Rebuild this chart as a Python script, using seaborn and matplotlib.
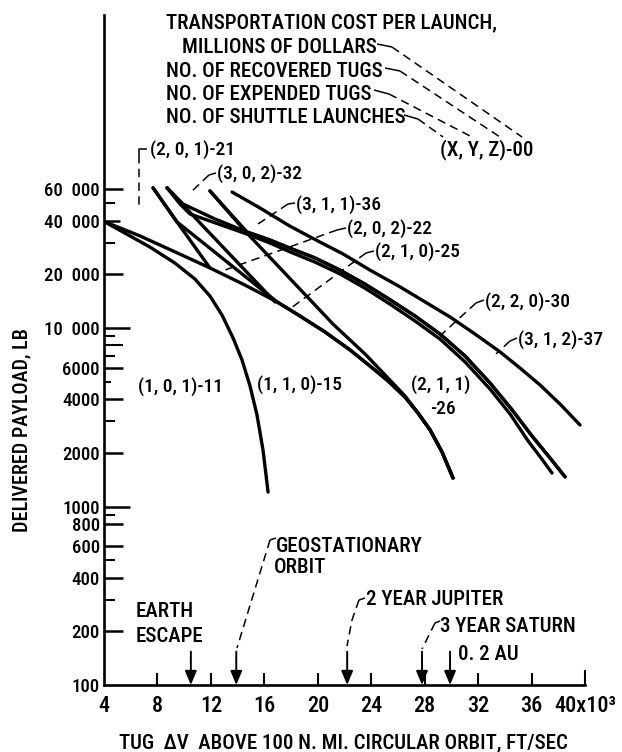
import numpy as np
import pandas as pd
import matplotlib
matplotlib.use("Agg")
import matplotlib.pyplot as plt
from matplotlib import font_manager as fm
from matplotlib.font_manager import FontProperties
from matplotlib.lines import Line2D
from matplotlib.ticker import NullFormatter
import seaborn as sns

# ---------------- data ----------------
# curves: (shuttle launches, expended tugs, recovered tugs) - cost per launch
dv_101_11 = [4.0, 5.57, 7.44, 9.31, 10.81, 11.93, 12.83, 13.66, 14.33, 14.93, 15.45, 15.90, 16.28]
pl_101_11 = [39500, 34000, 28400, 23100, 18800, 15100, 11830, 8790, 6620, 4730, 3260, 2075, 1205]

dv_110_15 = [4.0, 6.69, 9.31, 11.93, 14.55, 16.95, 18.67, 20.54, 22.41, 23.91, 25.26,
             26.53, 27.50, 28.40, 29.30, 30.12]
pl_110_15 = [39500, 32800, 26700, 21700, 17400, 14000, 11670, 9500, 7540, 6120, 5050,
             4100, 3340, 2690, 2020, 1445]

dv_201_21 = [7.67, 9.46, 11.93]
pl_201_21 = [61000, 39300, 21700]

dv_202_22 = [8.72, 9.91, 16.80]
pl_202_22 = [61000, 48900, 14000]

dv_210_25 = [7.67, 9.46, 16.95, 18.67, 20.54, 22.41, 23.91, 25.26, 26.53, 27.50, 28.40,
             29.30, 30.12]
pl_210_25 = [61000, 39300, 14000, 11670, 9500, 7540, 6120, 5050, 4100, 3340, 2690,
             2020, 1445]

dv_211_26 = [11.93, 14.70, 17.40, 21.14, 23.54, 25.03, 26.53, 27.50, 28.40, 29.30, 30.12]
pl_211_26 = [58600, 34000, 20800, 10520, 7150, 5460, 4160, 3340, 2690, 2020, 1445]

dv_220_30 = [8.72, 9.91, 12.31, 14.70, 16.43, 17.92, 19.79, 21.66, 23.54, 25.41, 27.28,
             29.15, 31.02, 32.89, 34.54, 36.04, 37.38, 38.51]
pl_220_30 = [61000, 49500, 40800, 34500, 31100, 28000, 24700, 21100, 17600, 14400, 11670,
             9250, 6970, 4920, 3480, 2480, 1870, 1465]

dv_302_32 = [8.72, 9.69, 10.44, 14.70, 16.43, 17.92, 19.79, 21.66, 23.54, 25.41, 27.28,
             29.15, 31.02, 32.89, 34.39, 35.74, 36.71, 37.53]
pl_302_32 = [61000, 49500, 43500, 33600, 29900, 26700, 23400, 20100, 16700, 13600, 10940,
             8670, 6460, 4550, 3300, 2330, 1870, 1540]

dv_311_36 = [11.93, 14.70, 16.43, 17.92, 19.79, 21.66, 23.54, 25.41, 27.28, 29.15, 31.02,
             32.89, 34.54, 36.04, 37.38, 38.51]
pl_311_36 = [58600, 34500, 31100, 28000, 24700, 21100, 17600, 14400, 11670, 9250, 6970,
             4920, 3480, 2480, 1870, 1465]

dv_312_37 = [13.58, 15.68, 17.92, 20.16, 21.89, 23.91, 26.16, 28.03, 29.90, 31.77, 33.64,
             35.13, 36.63, 38.13, 39.63]
pl_312_37 = [57800, 47000, 37200, 30300, 26000, 21100, 17000, 14000, 11530, 9250, 7350,
             5970, 4800, 3750, 2860]

curve_names = ["(1, 0, 1)-11", "(1, 1, 0)-15", "(2, 0, 1)-21", "(2, 0, 2)-22",
               "(2, 1, 0)-25", "(2, 1, 1)-26", "(2, 2, 0)-30", "(3, 0, 2)-32",
               "(3, 1, 1)-36", "(3, 1, 2)-37"]
curve_dv = [dv_101_11, dv_110_15, dv_201_21, dv_202_22, dv_210_25,
            dv_211_26, dv_220_30, dv_302_32, dv_311_36, dv_312_37]
curve_pl = [pl_101_11, pl_110_15, pl_201_21, pl_202_22, pl_210_25,
            pl_211_26, pl_220_30, pl_302_32, pl_311_36, pl_312_37]

mission_labels = ["EARTH\nESCAPE", "GEOSTATIONARY\nORBIT", "2 YEAR JUPITER",
                  "3 YEAR SATURN", "0. 2 AU"]
mission_dv = [10.5, 13.9, 22.2, 27.8, 29.9]

x_ticks = [4, 8, 12, 16, 20, 24, 28, 32, 36, 40]
x_tick_labels = ["4", "8", "12", "16", "20", "24", "28", "32", "36", "40x10\u00b3"]
y_ticks = [100, 200, 400, 600, 800, 1000, 2000, 4000, 6000, 10000, 20000, 40000, 60000]
y_tick_labels = ["100", "200", "400", "600", "800", "1000", "2000", "4000", "6000",
                 "10  000", "20  000", "40  000", "60  000"]
y_minor_ticks = [300, 500, 900, 3000, 5000, 7000, 8000, 9000, 30000, 50000]

legend_lines = ["TRANSPORTATION COST PER LAUNCH,", "MILLIONS OF DOLLARS",
                "NO. OF RECOVERED TUGS", "NO. OF EXPENDED TUGS",
                "NO. OF SHUTTLE LAUNCHES"]
legend_key = "(X, Y, Z)-00"

# ---------------- style & fonts ----------------
sns.set_theme(style="ticks")
avail = {f.name for f in fm.fontManager.ttflist}
FAM, STRETCH = "Liberation Sans", "normal"
for cand in ["Roboto Condensed", "Liberation Sans Narrow", "Open Sans Condensed",
             "Noto Sans Condensed", "DejaVu Sans Condensed"]:
    if cand in avail:
        FAM = cand
        break
plt.rcParams.update({"font.family": [FAM, "DejaVu Sans"],
                     "xtick.direction": "in", "ytick.direction": "in"})


def font(size):
    return FontProperties(family=[FAM, "DejaVu Sans"], stretch=STRETCH, size=size,
                          weight="medium")


# ---------------- figure ----------------
W, H = 622, 752
AX_W, AX_H = 585 - 104, 685 - 15          # axes size in pixels
fig = plt.figure(figsize=(W / 100, H / 100), dpi=100)
ax = fig.add_axes([104 / W, 1 - 685 / H, AX_W / W, AX_H / H])

frames = [pd.DataFrame({"dv": xs, "payload": ys, "curve": nm})
          for nm, xs, ys in zip(curve_names, curve_dv, curve_pl)]
df = pd.concat(frames, ignore_index=True)
sns.lineplot(data=df, x="dv", y="payload", units="curve", estimator=None, sort=False,
             color="black", lw=2.4, ax=ax, legend=False,
             solid_joinstyle="round", solid_capstyle="round")

ax.set_yscale("log")
ax.set_xlim(4, 40)
ax.set_ylim(100, 10 ** (2 + 670 / 178.5))
ax.set_xlabel("")
ax.set_ylabel("")
for s in ["top", "right"]:
    ax.spines[s].set_visible(False)
for s in ["left", "bottom"]:
    ax.spines[s].set_color("black")
    ax.spines[s].set_linewidth(1.9)
    ax.spines[s].set_zorder(3)

ax.set_xticks(x_ticks, x_tick_labels)
ax.set_yticks(y_ticks, y_tick_labels)
ax.set_yticks(y_minor_ticks, minor=True)
ax.yaxis.set_minor_formatter(NullFormatter())
# tick labels come from the axis; the tick strokes are drawn below
ax.tick_params(axis="x", which="both", bottom=True, top=False, length=0,
               labelcolor="black", pad=7)
ax.tick_params(axis="y", which="both", left=True, right=False, length=0,
               labelcolor="black", pad=3)
for lbl in ax.get_xticklabels():
    lbl.set_fontproperties(font(16))
for lbl in ax.get_yticklabels():
    lbl.set_fontproperties(font(13.5))

# tick strokes (inward), lengths in pixels, placed via the axis transforms
y_major_len = {100: 0, 1000: 26, 10000: 26, 40000: 16}
y_minor_len = {8000: 19, 5000: 7}
ylt = ax.get_yaxis_transform()
ax.hlines(y_ticks, 0, [y_major_len.get(v, 19) / AX_W for v in y_ticks],
          transform=ylt, colors="black", lw=1.8, clip_on=False, zorder=3)
ax.hlines(y_minor_ticks, 0, [y_minor_len.get(v, 11) / AX_W for v in y_minor_ticks],
          transform=ylt, colors="black", lw=1.5, clip_on=False, zorder=3)
xlt = ax.get_xaxis_transform()
ax.vlines(x_ticks[1:], 0, [15 / AX_H if v == 40 else 12 / AX_H for v in x_ticks[1:]],
          transform=xlt, colors="black", lw=1.5, clip_on=False, zorder=3)

# ---------------- helpers in image-pixel coordinates ----------------
def fxy(x, y):
    return (x / W, 1 - y / H)


def ftext(x, y, s, size, **kw):
    kw.setdefault("va", "baseline")
    kw.setdefault("ha", "left")
    fig.text(*fxy(x, y), s, fontproperties=font(size), color="black", **kw)


def fline(pts, dashed=False, lw=1.1):
    xs = [p[0] / W for p in pts]
    ys = [1 - p[1] / H for p in pts]
    ls = (0, (5.5, 3.5)) if dashed else "-"
    fig.add_artist(Line2D(xs, ys, transform=fig.transFigure, color="black", lw=lw,
                          linestyle=ls, solid_capstyle="butt"))


# legend block
ftext(166, 28, legend_lines[0], 15)
ftext(182, 53, legend_lines[1], 15)
ftext(166, 77, legend_lines[2], 15)
ftext(166, 100, legend_lines[3], 15)
ftext(166, 123, legend_lines[4], 15)
ftext(440, 155, legend_key, 15)
fline([(377, 44), (392, 47)])
fline([(392, 47), (522, 137)], dashed=True)
fline([(385, 68), (400, 71)])
fline([(400, 71), (500, 137)], dashed=True)
fline([(374, 90), (389, 94)])
fline([(389, 94), (472, 137)], dashed=True)
fline([(404, 115), (418, 119)])
fline([(418, 119), (443, 137)], dashed=True)

# curve labels
LS = 14
ftext(150, 155, curve_names[2], LS)
fline([(147, 149), (139, 149), (139, 155)])
fline([(139, 155), (139, 210)], dashed=True)

ftext(217, 179, curve_names[7], LS)
fline([(216, 173), (209, 175)])
fline([(209, 175), (190, 193)], dashed=True)

ftext(296, 210, curve_names[8], LS)
fline([(295, 203), (288, 204)])
fline([(288, 204), (255, 226)], dashed=True)

ftext(347, 234, curve_names[3], LS)
fline([(346, 228), (337, 230)])
fline([(337, 230), (225, 270)], dashed=True)

ftext(375, 257, curve_names[4], LS)
fline([(374, 251), (366, 253)])
fline([(366, 253), (291, 308)], dashed=True)

ftext(485, 307, curve_names[6], LS)
fline([(484, 300), (476, 303)])
fline([(476, 303), (441, 335)], dashed=True)

ftext(518, 345, curve_names[9], LS)
fline([(517, 338), (510, 341)])
fline([(510, 341), (496, 354)], dashed=True)

ftext(257, 390, curve_names[1], LS)
ftext(441, 390, "(2, 1, 1)", LS, ha="center")
ftext(443, 414, "-26", LS, ha="center")
ftext(138, 392, curve_names[0], LS)

# mission markers (arrows down to the axis)
for xv in mission_dv:
    ax.annotate("", xy=(xv, 100), xycoords="data", xytext=(0, 24),
                textcoords="offset points",
                arrowprops=dict(arrowstyle="-|>,head_length=0.6,head_width=0.25",
                                color="black", lw=1.4, shrinkA=0, shrinkB=0,
                                mutation_scale=14))
AS = 15
ftext(136, 617, mission_labels[0].split("\n")[0], AS)
ftext(136, 642, mission_labels[0].split("\n")[1], AS)
ftext(276, 552, mission_labels[1].split("\n")[0], AS)
ftext(274, 573, mission_labels[1].split("\n")[1], AS)
fline([(276, 538), (270, 540)])
fline([(270, 540), (237, 648)], dashed=True)
ftext(366, 605, mission_labels[2], AS)
fline([(365, 598), (359, 600)])
fline([(359, 600), (352, 620), (347, 646)], dashed=True)
ftext(440, 632, mission_labels[3], AS)
fline([(440, 621), (435, 623)])
fline([(435, 623), (422, 649)], dashed=True)
ftext(458, 660, mission_labels[4], AS)

# axis titles
ftext(22, 430, "DELIVERED PAYLOAD, LB", 14.5, rotation=90, ha="center", va="center")
ftext(343, 748, "TUG  \u0394V  ABOVE 100 N. MI. CIRCULAR ORBIT, FT/SEC", 15, ha="center")

fig.savefig("out.png", dpi=100, facecolor="white")
